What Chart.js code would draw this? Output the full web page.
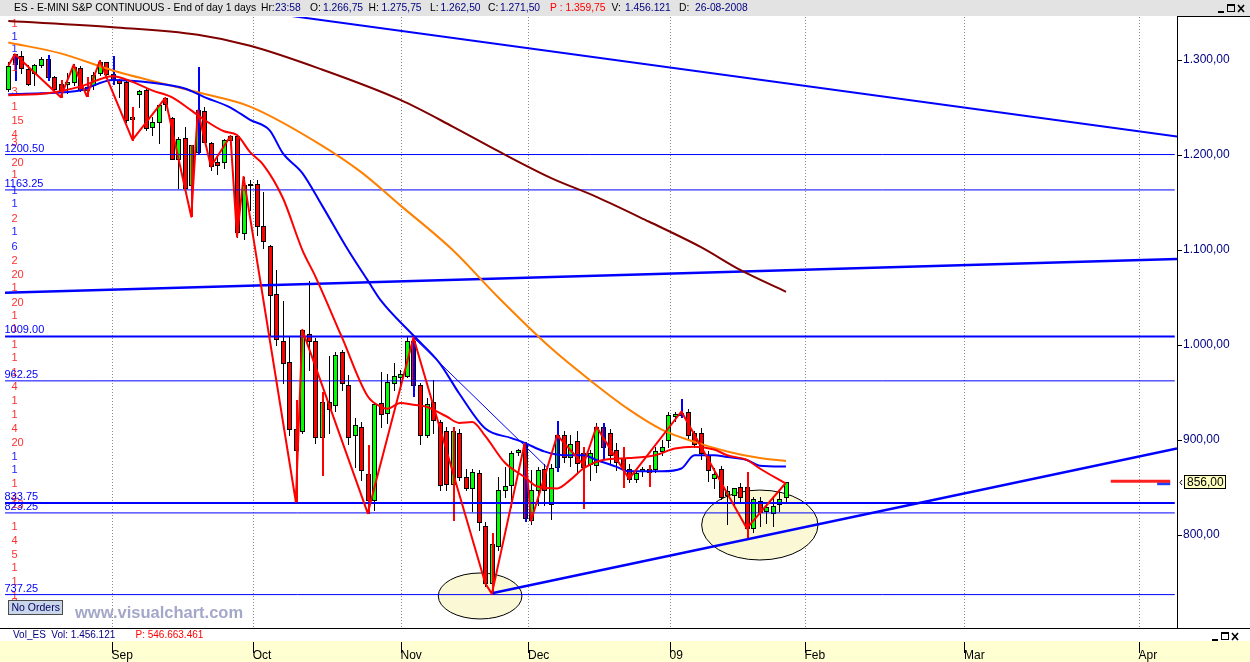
<!DOCTYPE html>
<html>
<head>
<meta charset="utf-8">
<title>ES - E-MINI S&amp;P CONTINUOUS</title>
<script src="https://cdn.jsdelivr.net/npm/chart.js@4.4.1/dist/chart.umd.min.js"></script>
<style>
  html, body { margin: 0; padding: 0; background: #ffffff; overflow: hidden; }
  #frame { position: relative; width: 1250px; height: 662px; }
  canvas { display: block; }
</style>
</head>
<body>
<div id="frame"><canvas id="chart" width="1250" height="662"></canvas></div>
<script>
// ---------------- daily sessions, oldest first ----------------
const barOpen = [
  1269,1306,1304,1291,1286,1295,1301,1282,1275,1275,
  1277,1292,1272,1274,1286,1298,1285,1279,1277,1238,
  1264,1268,1230,1235,1260,1239,1196,1218,1168,1203,
  1246,1213,1193,1193,1216,1220,1118,1168,1169,1125,
  1104,1054,1004,982,912,909,1012,1004,903,940,
  937,993,958,905,914,864,837,939,928,960,
  966,967,1004,958,905,940,919,910,854,907,
  861,850,865,810,749,788,847,853,887,896,
  816,847,870,833,872,905,882,899,886,875,
  874,914,907,889,881,870,859,867,870,870,
  888,900,925,928,930,907,907,884,860,869,
  842,842,851,851,807,836,825,823,833,840
];
const barHigh = [
  1298,1306,1309,1295,1296,1303,1305,1283,1279,1286,
  1296,1294,1282,1287,1300,1298,1304,1280,1279,1251,
  1268,1269,1240,1254,1261,1240,1219,1230,1211,1293,
  1251,1214,1198,1217,1221,1221,1177,1174,1174,1161,
  1105,1079,1046,1010,942,1017,1067,1007,951,988,
  993,995,968,923,919,895,940,972,970,981,
  974,1008,1010,960,944,963,921,914,914,912,
  869,869,868,814,802,861,872,888,891,898,
  868,872,875,875,920,909,905,909,893,890,
  918,918,912,897,893,875,868,872,874,893,
  900,930,930,943,933,910,913,888,871,873,
  852,850,855,866,840,840,835,841,848,856
];
const barLow = [
  1267,1279,1286,1274,1274,1293,1279,1267,1261,1265,
  1274,1267,1262,1270,1284,1284,1275,1261,1235,1216,
  1251,1226,1221,1213,1247,1196,1165,1164,1136,1202,
  1214,1184,1180,1186,1212,1114,1112,1142,1116,1102,
  1010,1000,960,905,835,907,974,897,863,907,
  931,953,896,872,858,823,826,914,918,953,
  958,966,946,896,903,907,847,847,816,858,
  847,825,805,746,738,784,840,830,884,815,
  812,832,832,817,867,877,873,866,828,858,
  866,880,875,868,851,856,856,862,852,866,
  884,893,920,924,902,893,880,857,850,838,
  812,833,835,796,803,810,813,810,825,835
];
const barClose = [
  1294,1296,1292,1275,1295,1301,1282,1269,1268,1277,
  1293,1268,1268,1284,1298,1285,1279,1276,1237,1240,
  1267,1228,1235,1253,1254,1196,1217,1165,1211,1247,
  1214,1188,1189,1216,1220,1119,1168,1169,1125,1110,
  1053,1006,981,912,889,1016,1004,903,940,933,
  989,960,903,916,868,837,938,927,961,967,
  969,1004,958,905,938,921,853,854,909,861,
  850,866,814,749,791,847,852,886,890,818,
  847,868,847,871,905,882,896,876,872,886,
  914,893,884,877,870,859,865,869,866,888,
  893,926,927,926,905,896,886,868,864,840,
  846,849,840,807,837.5,824.5,830,831,838,856
];

// sessions flagged by the pivot study (range drawn in blue / red)
const blueBars = [1, 6, 16, 29, 62, 79, 84, 91, 103];
const redBars = [8, 12, 19, 28, 44, 48, 55, 68, 74, 88, 94, 98, 113];

// moving averages, sampled by session index
const maFastIdx = [0,6,11,16,19,22,25,28,30,33,35,37,39,42,45,47,51,55,57,58,60,62,64,67,69,71,73,76,79,81,84,86,88,91,95,99,102,105,108,110,113,115,119];
const maFast    = [1263,1265,1272,1283,1277,1268,1261,1247,1237,1225,1221,1203,1190,1155,1100,1072,1009,946,935,933,939,937,935,925,918,919,904,876,861,851,849,858,870,879,881,884,891,893,890,884,879,870,854];
const maMidIdx  = [0,5,11,16,22,27,30,34,37,40,42,45,48,52,55,57,62,66,69,73,77,79,82,85,88,90,93,95,100,103,105,108,110,113,115,119];
const maMid     = [1264,1265,1268,1279,1276,1270,1261,1250,1237,1226,1202,1181,1147,1100,1068,1047,1010,981,949,912,902,897,888,884,884,879,872,867,867,870,884,884,882,879,873,872];
const maSlowIdx = [0,8,16,29,37,48,54,60,68,75,83,89,95,100,105,110,115,119];
const maSlow    = [1318.5,1307,1289,1266,1251,1210,1182,1147,1100,1050,997,963,932,911,898,888,881,878];
const maLongIdx = [0,16,29,37,48,60,68,75,83,90,98,106,112,119];
const maLong    = [1341,1334.5,1326.5,1315,1290,1258,1230,1204,1176,1156,1130,1103,1079,1056];

// zigzag swing points
const zigIdx = [0,1,8,10,12,14,19,24,28,29,31,34,35,36,44,45,55,62,73,74,79,80,84,88,90,95,103,113,119];
const zigVal = [1294,1306,1261,1295,1262,1299,1216,1260,1135,1247,1188,1220,1114,1177,835,1016,823,1008,749,738,896,815,905,874,914,859,930,807,855];

// horizontal price levels
const keyLevels = [1009.00, 833.75];
const minorLevels = [1200.50, 1163.25, 962.25, 823.25, 737.25];
const levelSpan = [-0.5, 178.5];

// trend lines (session index, price)
const upperTrendIdx = [40, 178.84];  const upperTrendVal = [1349.5, 1219.4];
const midTrendIdx = [-0.5, 178.84];  const midTrendVal = [1055.1, 1090.5];
const lowTrendIdx = [74, 178.84];    const lowTrendVal = [738.6, 891];
const thinTrendIdx = [62, 82.6];     const thinTrendVal = [1008, 870];

// projected averages beyond the last session
const projFastIdx = [168.7, 177.8]; const projFastVal = [856.5, 856.5];
const projMidIdx = [175.8, 177.8];  const projMidVal = [854, 854];

// marked zones: centre (index, price) and half extents
const zoneIdx = [72.2, 115.0];
const zonePrice = [735.8, 810.5];
const zoneHalfSpan = [6.4, 8.9];
const zoneHalfRange = [24.2, 36.8];

// order ladder shown along the left edge
const bookPrice = [1338.9,1325.2,1312.6,1292.9,1267.4,1251.6,1236.8,1222.1,1214.0,1192.9,1180.0,1163.2,1149.5,1134.0,1120.3,1104.2,1089.5,1074.7,1061.4,1045.6,1031.6,1017.9,1001.0,987.7,971.6,957.2,942.1,927.4,912.9,897.6,883.2,869.2,854.4,840.0,832.3,809.5,794.7,780.0,766.0,751.6,736.8,729.8];
const bookQty   = [1,1,1,1,3,1,15,4,3,20,1,1,1,2,1,6,2,20,1,20,1,1,1,1,1,4,1,1,4,20,1,1,1,4,13,1,4,5,1,1,1,3];
const bookSide  = ['s','b','b','s','s','s','s','s','s','s','s','b','b','s','b','b','s','s','s','s','s','s','s','s','s','s','s','s','s','s','b','b','s','s','s','s','s','s','s','s','s','s'];

// axes
const priceTicks = [800, 900, 1000, 1100, 1200, 1300];
const monthStart = [15.81, 37.41, 60.02, 79.53, 101.18, 121.84, 146.24, 172.95];
const monthLabel = ['Sep', 'Oct', 'Nov', 'Dec', '09', 'Feb', 'Mar', 'Apr'];
const X_MIN = -1.27, X_MAX = 178.84, Y_MIN = 702.1, Y_MAX = 1345.3;

const lastPrice = barClose[barClose.length - 1];

// ---------------- helpers ----------------
const FONT = '"Liberation Sans", Arial, Helvetica, sans-serif';
function fmtPrice(v) {
  const parts = v.toFixed(2).split('.');
  return parts[0].replace(/\B(?=(\d{3})+(?!\d))/g, '.') + ',' + parts[1];
}
const pts = (xs, ys) => xs.map((x, i) => ({ x: x, y: ys[i] }));
function lineSet(data, color, width, extra) {
  return Object.assign({
    data: data, borderColor: color, borderWidth: width, pointRadius: 0,
    fill: false, tension: 0, borderJoinStyle: 'round', borderCapStyle: 'butt'
  }, extra || {});
}

// ---------------- datasets (first = drawn on top) ----------------
const datasets = [
  lineSet(pts(zigIdx, zigVal), '#ff0000', 2),
  lineSet(pts(maFastIdx, maFast), '#ff0000', 2, { cubicInterpolationMode: 'monotone' }),
  lineSet(pts(maMidIdx, maMid), '#0000ff', 2, { cubicInterpolationMode: 'monotone' }),
  lineSet(pts(maSlowIdx, maSlow), '#ff8000', 2, { cubicInterpolationMode: 'monotone' }),
  lineSet(pts(maLongIdx, maLong), '#800000', 2, { cubicInterpolationMode: 'monotone' }),
  lineSet(pts(projFastIdx, projFastVal), '#ff2020', 3),
  lineSet(pts(projMidIdx, projMidVal), '#2040ff', 3),
  lineSet(pts(lowTrendIdx, lowTrendVal), '#0000ff', 2.5),
  lineSet(pts(upperTrendIdx, upperTrendVal), '#0000ff', 2),
  lineSet(pts(midTrendIdx, midTrendVal), '#0000ff', 2.5),
  lineSet(pts(thinTrendIdx, thinTrendVal), '#0000ff', 1)
];
keyLevels.forEach(v => datasets.push(lineSet(pts(levelSpan, [v, v]), '#0000ff', 2)));
minorLevels.forEach(v => datasets.push(lineSet(pts(levelSpan, [v, v]), '#0000ff', 1)));

// ---------------- plugins ----------------
const backdrop = {
  id: 'backdrop',
  beforeDraw(chart) {
    const { ctx, chartArea: a, width: W, height: H } = chart;
    ctx.save();
    ctx.fillStyle = '#ffffff';
    ctx.fillRect(0, 0, W, H);
    ctx.fillStyle = '#e3e3e3';
    ctx.fillRect(0, 0, W, a.top - 1);
    ctx.fillStyle = '#ffffd2';
    ctx.fillRect(0, a.bottom + 13, W, H - a.bottom - 13);
    ctx.restore();
  }
};

const bars = {
  id: 'bars',
  beforeDatasetsDraw(chart) {
    const { ctx, chartArea: a, scales: { x, y } } = chart;
    ctx.save();
    ctx.beginPath();
    ctx.rect(a.left, a.top, a.right - a.left, a.bottom - a.top);
    ctx.clip();

    // month separators
    ctx.strokeStyle = '#8a8a8a';
    ctx.lineWidth = 1;
    ctx.setLineDash([1, 2]);
    monthStart.forEach(v => {
      const gx = Math.round(x.getPixelForValue(v)) + 0.5;
      ctx.beginPath(); ctx.moveTo(gx, a.top); ctx.lineTo(gx, a.bottom); ctx.stroke();
    });
    ctx.setLineDash([]);

    // marked zones
    ctx.fillStyle = '#fbf8d6';
    ctx.strokeStyle = '#000000';
    zoneIdx.forEach((c, i) => {
      const cx = x.getPixelForValue(c), cy = y.getPixelForValue(zonePrice[i]);
      const rx = Math.abs(x.getPixelForValue(c + zoneHalfSpan[i]) - cx);
      const ry = Math.abs(y.getPixelForValue(zonePrice[i] + zoneHalfRange[i]) - cy);
      ctx.beginPath(); ctx.ellipse(cx, cy, rx, ry, 0, 0, Math.PI * 2);
      ctx.fill(); ctx.stroke();
    });

    // candles
    for (let i = 0; i < barOpen.length; i++) {
      const cx = Math.round(x.getPixelForValue(i));
      const yo = y.getPixelForValue(barOpen[i]), yc = y.getPixelForValue(barClose[i]);
      const yh = Math.round(y.getPixelForValue(barHigh[i]));
      const yl = Math.round(y.getPixelForValue(barLow[i]));
      ctx.strokeStyle = '#000000';
      ctx.lineWidth = 1;
      ctx.beginPath(); ctx.moveTo(cx + 0.5, yh); ctx.lineTo(cx + 0.5, yl + 1); ctx.stroke();
      const top = Math.round(Math.min(yo, yc)), bot = Math.round(Math.max(yo, yc));
      const h = Math.max(bot - top, 1);
      ctx.fillStyle = barClose[i] >= barOpen[i] ? '#00ff00' : '#ff0000';
      ctx.fillRect(cx - 2, top, 5, h + 1);
      ctx.strokeRect(cx - 1.5, top + 0.5, 4, h);
      const flag = blueBars.includes(i) ? '#0000ff' : (redBars.includes(i) ? '#ff0000' : null);
      if (flag) {
        ctx.strokeStyle = flag;
        ctx.lineWidth = 2;
        ctx.beginPath(); ctx.moveTo(cx + 1, yh); ctx.lineTo(cx + 1, yl + 1); ctx.stroke();
      }
    }

    // order ladder
    ctx.font = '11px ' + FONT;
    ctx.textBaseline = 'middle';
    ctx.textAlign = 'left';
    bookPrice.forEach((p, i) => {
      ctx.fillStyle = bookSide[i] === 'b' ? '#2020ff' : '#ff3030';
      ctx.fillText(String(bookQty[i]), 11.5, Math.round(y.getPixelForValue(p)) + 0.5);
    });

    // level captions
    ctx.fillStyle = '#0000ff';
    ctx.textBaseline = 'alphabetic';
    keyLevels.concat(minorLevels).forEach(v => {
      ctx.fillText(v.toFixed(2), 4.5, Math.round(y.getPixelForValue(v)) - 3);
    });
    ctx.restore();
  }
};

const frame = {
  id: 'frame',
  afterDraw(chart) {
    const { ctx, chartArea: a, scales: { x, y }, width: W, height: H } = chart;
    ctx.save();

    // title strip
    ctx.font = '10.3px ' + FONT;
    ctx.textBaseline = 'middle';
    ctx.textAlign = 'left';
    const navy = '#000080';
    [
      [14, 'ES - E-MINI S&P CONTINUOUS - End of day 1 days', '#000000'],
      [261, 'Hr:', '#000000'], [275, '23:58', navy],
      [310, 'O:', '#000000'], [323, '1.266,75', navy],
      [368.5, 'H:', '#000000'], [381.5, '1.275,75', navy],
      [430, 'L:', '#000000'], [440.5, '1.262,50', navy],
      [488, 'C:', '#000000'], [500, '1.271,50', navy],
      [550, 'P : 1.359,75', '#ff0000'],
      [611.5, 'V:', '#000000'], [625, '1.456.121', navy],
      [679, 'D:', '#000000'], [695, '26-08-2008', navy]
    ].forEach(s => { ctx.fillStyle = s[2]; ctx.fillText(s[1], s[0], 8.5); });

    function winButtons(bx, by) {
      ctx.strokeStyle = '#000000';
      ctx.fillStyle = '#000000';
      ctx.lineWidth = 1;
      ctx.fillRect(bx, by + 8, 6, 2);
      ctx.strokeRect(bx + 9.5, by + 1.5, 7, 7);
      ctx.fillRect(bx + 9, by + 1, 8, 2);
      ctx.lineWidth = 1.6;
      ctx.beginPath();
      ctx.moveTo(bx + 20, by + 2); ctx.lineTo(bx + 26, by + 9);
      ctx.moveTo(bx + 26, by + 2); ctx.lineTo(bx + 20, by + 9);
      ctx.stroke();
    }
    winButtons(1218, 3);

    // panel borders
    ctx.fillStyle = '#000000';
    ctx.fillRect(a.right, a.top - 1, W - a.right, 1);
    ctx.fillRect(0, a.bottom, W, 1);

    // volume sub-panel caption
    ctx.font = '10px ' + FONT;
    ctx.fillStyle = navy;
    ctx.fillText('Vol_ES  Vol: 1.456.121', 13, a.bottom + 7.5);
    ctx.fillStyle = '#ff0000';
    ctx.fillText('P: 546.663.461', 135.5, a.bottom + 7.5);
    winButtons(1212, a.bottom + 3);

    // month ticks in the time band
    ctx.strokeStyle = '#000000';
    ctx.lineWidth = 1;
    monthStart.forEach(v => {
      const tx = Math.round(x.getPixelForValue(v)) + 0.5;
      ctx.beginPath(); ctx.moveTo(tx, a.bottom + 14); ctx.lineTo(tx, a.bottom + 25); ctx.stroke();
    });

    // last price tag
    const ty = Math.round(y.getPixelForValue(lastPrice));
    ctx.fillStyle = '#ffffc0';
    ctx.fillRect(a.right + 7, ty - 6, 41, 13);
    ctx.strokeStyle = '#000000';
    ctx.strokeRect(a.right + 7.5, ty - 6.5, 41, 13);
    ctx.beginPath();
    ctx.moveTo(a.right + 5, ty - 2); ctx.lineTo(a.right + 3, ty + 0.5); ctx.lineTo(a.right + 5, ty + 3);
    ctx.stroke();
    ctx.fillStyle = '#000000';
    ctx.font = '12px ' + FONT;
    ctx.fillText(fmtPrice(lastPrice).replace(/^(\d+)\./, '$1'), a.right + 10, ty + 0.5);

    // order panel badge
    ctx.fillStyle = '#c9d6ea';
    ctx.fillRect(8, 600, 55, 15);
    ctx.strokeStyle = '#4a4a4a';
    ctx.strokeRect(8.5, 600.5, 54, 14);
    ctx.fillStyle = '#000060';
    ctx.font = '10.5px ' + FONT;
    ctx.fillText('No Orders', 11.5, 608);

    // vendor mark
    ctx.fillStyle = '#a3a8c9';
    ctx.font = 'bold 16.5px ' + FONT;
    ctx.fillText('www.visualchart.com', 75, 613);
    ctx.restore();
  }
};

// ---------------- chart ----------------
new Chart(document.getElementById('chart'), {
  type: 'line',
  data: { datasets: datasets },
  options: {
    responsive: false,
    animation: false,
    devicePixelRatio: 1,
    events: [],
    layout: { padding: { top: 17, left: 0, right: 0, bottom: 0 } },
    plugins: { legend: { display: false }, tooltip: { enabled: false }, title: { display: false } },
    scales: {
      x: {
        type: 'linear', min: X_MIN, max: X_MAX,
        afterBuildTicks: s => { s.ticks = monthStart.map(v => ({ value: v })); },
        afterFit: s => { s.height = 34; },
        ticks: {
          callback: (v, i) => monthLabel[i], align: 'start', padding: 20,
          autoSkip: false, maxRotation: 0, color: '#000000',
          font: { family: FONT, size: 12 }
        },
        grid: { display: false, drawTicks: false },
        border: { display: false }
      },
      y: {
        type: 'linear', position: 'right', min: Y_MIN, max: Y_MAX,
        afterBuildTicks: s => { s.ticks = priceTicks.map(v => ({ value: v })); },
        afterFit: s => { s.width = 73; },
        ticks: { callback: v => fmtPrice(v), color: '#000080', padding: 1, font: { family: FONT, size: 12 } },
        grid: { drawOnChartArea: false, color: '#000000', tickLength: 5 },
        border: { display: true, color: '#000000', width: 1 }
      }
    }
  },
  plugins: [backdrop, bars, frame]
});
</script>
</body>
</html>
